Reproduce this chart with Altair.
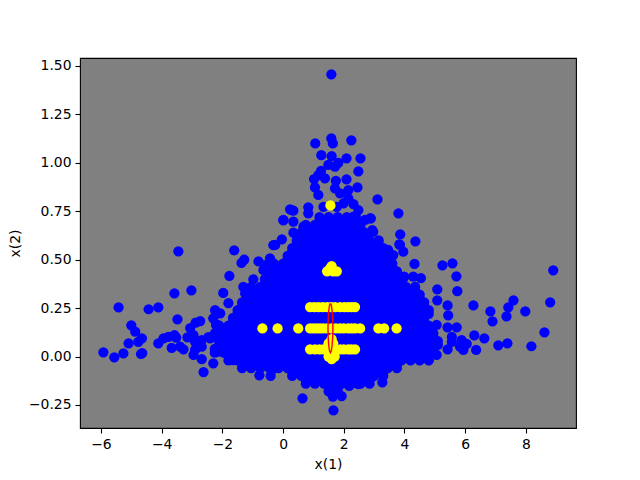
import altair as alt
import pandas as pd

# Outlying blue points
out_x = [-3.45,-1.61,-1.28,-1.37,-0.81,-1.77,-3.58,-3.02,-1.97,-1.80,-5.42,-4.43,-4.11,-3.48,-2.24,-2.07,-2.30,-2.21,-2.73,-2.88,-3.06,-5.0,-4.87,-4.65,-4.77,-5.09,-5.92,-5.56,-5.26,-4.68,-4.64,-4.11,-3.94,-3.78,-3.58,-3.52,-3.67,-3.39,-3.28,-3.15,-2.95,-2.90,-2.95,-2.90,-2.68,-2.68,-2.68,-2.62,-2.30,-2.40,-0.78,-0.41,-0.37,-2.13,-1.65,-1.20,-0.87,
 3.80,3.86,4.36,3.83,3.96,4.33,5.25,5.58,5.71,5.08,5.74,5.08,5.42,5.44,6.27,6.83,7.42,7.59,7.36,6.9,7.98,8.80,8.90,8.61,8.18,7.39,7.09,6.30,6.63,6.36,5.72,5.42,5.56,5.56,5.88,6.05,5.83,5.94,5.42,5.06,4.79,5.06,4.29,4.54,3.99,
 1.59,1.59,1.64,1.06,2.25,1.26,1.60,2.09,2.55,1.82,1.49,1.71,2.48,1.25,1.02,1.38,1.16,1.74,2.09,2.45,1.05,2.15,1.16,1.71,1.88,3.11,2.15,2.32,0.23,0.34,0.83,0.01,0.34,0.83,2.89,2.70,2.48,2.32,2.94,1.33,1.77,1.99,
 -0.65,-0.59,-0.98,-1.31,-1.25,-0.43,-0.26,-0.04,0.29,0.01,0.34,0.67,2.97,2.87,3.42,3.63,3.85,3.96,3.42,3.74,
 0.64,1.66,1.64,1.93,3.27,2.48,2.18,2.92,-2.16,-2.46,-0.32,3.46]
out_y = [0.543,0.548,0.50,0.483,0.491,0.416,0.326,0.342,0.328,0.275,0.254,0.244,0.254,0.192,0.239,0.223,0.197,0.163,0.183,0.175,0.147,0.161,0.128,0.094,0.076,0.068,0.022,-0.004,0.016,0.013,0.018,0.068,0.094,0.102,0.111,0.098,0.044,0.051,0.037,0.099,0.111,0.076,0.008,0.034,0.085,0.051,-0.014,-0.08,-0.035,0.094,-0.097,-0.10,-0.07,0.025,-0.018,-0.04,-0.044,
 0.739,0.631,0.595,0.579,0.541,0.478,0.471,0.481,0.414,0.347,0.337,0.29,0.264,0.213,0.264,0.233,0.254,0.29,0.207,0.182,0.233,0.28,0.445,0.125,0.053,0.068,0.058,0.109,0.094,0.034,0.151,0.151,0.102,0.076,0.085,0.065,0.051,0.034,0.037,0.008,-0.014,0.163,0.412,0.405,0.412,
 1.457,1.126,1.10,1.10,1.116,1.039,1.034,1.023,1.023,1.0,0.989,0.98,0.956,0.958,0.916,0.92,0.937,0.907,0.915,0.873,0.873,0.859,0.834,0.868,0.842,0.811,0.816,0.787,0.76,0.753,0.77,0.703,0.696,0.739,0.713,0.705,0.756,0.722,0.653,0.773,0.773,0.79,
 0.447,0.472,0.398,0.36,0.326,0.507,0.576,0.605,0.756,0.705,0.639,0.67,0.644,0.713,0.55,0.524,0.576,0.404,0.447,0.438,
 -0.216,-0.278,-0.207,-0.204,-0.133,-0.142,-0.151,-0.107,0.163,0.10,0.575,0.55]

# Dense blue mass, read row by row; each row is drawn at two close heights
mass_rows = [
 (0.72,[1.2,1.5,1.8,2.1,2.4]),
 (0.68,[0.75,1.05,1.35,1.65,1.95,2.25,2.55]),
 (0.64,[0.6,0.9,1.2,1.5,1.8,2.1,2.4,2.7]),
 (0.60,[0.45,0.75,1.05,1.35,1.65,1.95,2.25,2.55,2.85,3.15]),
 (0.56,[0.3,0.6,0.9,1.2,1.5,1.8,2.1,2.4,2.7,3.0,3.3]),
 (0.52,[0.15,0.45,0.75,1.05,1.35,1.65,1.95,2.25,2.55,2.85,3.15,3.45]),
 (0.48,[-0.3,0.0,0.3,0.6,0.9,1.2,1.5,1.8,2.1,2.4,2.7,3.0,3.3,3.6]),
 (0.44,[-0.45,-0.15,0.15,0.45,0.75,1.05,1.35,1.65,1.95,2.25,2.55,2.85,3.15,3.45,3.75]),
 (0.40,[-0.6,-0.3,0.0,0.3,0.6,0.9,1.2,1.5,1.8,2.1,2.4,2.7,3.0,3.3,3.6,3.9]),
 (0.36,[-1.05,-0.75,-0.45,-0.15,0.15,0.45,0.75,1.05,1.35,1.65,1.95,2.25,2.55,2.85,3.15,3.45,3.75,4.05,4.35]),
 (0.32,[-1.2,-0.9,-0.6,-0.3,0.0,0.3,0.6,0.9,1.2,1.5,1.8,2.1,2.4,2.7,3.0,3.3,3.6,3.9,4.2,4.5]),
 (0.28,[-1.35,-1.05,-0.75,-0.45,-0.15,0.15,0.45,0.75,1.05,1.35,1.65,1.95,2.25,2.55,2.85,3.15,3.45,3.75,4.05,4.35,4.65]),
 (0.24,[-1.5,-1.2,-0.9,-0.6,-0.3,0.0,0.3,0.6,0.9,1.2,1.5,1.8,2.1,2.4,2.7,3.0,3.3,3.6,3.9,4.2,4.5,4.8]),
 (0.20,[-1.65,-1.35,-1.05,-0.75,-0.45,-0.15,0.15,0.45,0.75,1.05,1.35,1.65,1.95,2.25,2.55,2.85,3.15,3.45,3.75,4.05,4.35,4.65]),
 (0.16,[-2.1,-1.8,-1.5,-1.2,-0.9,-0.6,-0.3,0.0,0.3,0.6,0.9,1.2,1.5,1.8,2.1,2.4,2.7,3.0,3.3,3.6,3.9,4.2,4.5,4.8]),
 (0.12,[-2.25,-1.95,-1.65,-1.35,-1.05,-0.75,-0.45,-0.15,0.15,0.45,0.75,1.05,1.35,1.65,1.95,2.25,2.55,2.85,3.15,3.45,3.75,4.05,4.35,4.65,4.95]),
 (0.08,[-2.1,-1.8,-1.5,-1.2,-0.9,-0.6,-0.3,0.0,0.3,0.6,0.9,1.2,1.5,1.8,2.1,2.4,2.7,3.0,3.3,3.6,3.9,4.2,4.5,4.8,5.1]),
 (0.04,[-2.25,-1.95,-1.65,-1.35,-1.05,-0.75,-0.45,-0.15,0.15,0.45,0.75,1.05,1.35,1.65,1.95,2.25,2.55,2.85,3.15,3.45,3.75,4.05,4.35,4.65,4.95]),
 (0.00,[-1.8,-1.5,-1.2,-0.9,-0.6,-0.3,0.0,0.3,0.6,0.9,1.2,1.5,1.8,2.1,2.4,2.7,3.0,3.3,3.6,3.9,4.2,4.5,4.8]),
 (-0.04,[-1.35,-1.05,-0.75,-0.45,-0.15,0.15,0.45,0.75,1.05,1.35,1.65,1.95,2.25,2.55,2.85,3.15,3.45,3.75]),
 (-0.08,[0.3,0.6,0.9,1.2,1.5,1.8,2.1,2.4,2.7,3.0,3.3]),
 (-0.12,[0.75,1.05,1.35,1.65,1.95,2.25,2.55,2.85]),
 (-0.16,[1.5,1.8]),
]

# Yellow points
yellow_x = [1.56,1.55,1.77,1.60,1.65,1.45,
 -0.68,-0.18,0.50,0.89,1.11,1.33,1.60,1.88,2.15,2.37,2.54,3.14,3.33,3.74,1.0,1.22,1.45,1.74,2.0,2.26,
 0.89,1.03,1.17,1.31,1.45,1.58,1.71,1.88,2.02,2.15,2.37,2.26,
 0.89,1.05,1.2,1.33,1.60,1.88,2.0,2.15,2.25,2.37,
 1.50,1.65,1.50,1.70,1.60,1.60]
yellow_y = [0.78,0.455,0.44,0.467,0.44,0.44,
 0.145,0.145,0.145,0.145,0.145,0.145,0.145,0.145,0.145,0.145,0.145,0.145,0.145,0.145,0.145,0.145,0.145,0.145,0.145,0.145,
 0.255,0.255,0.255,0.255,0.255,0.255,0.255,0.255,0.255,0.255,0.255,0.255,
 0.037,0.037,0.037,0.037,0.037,0.037,0.037,0.037,0.037,0.037,
 0.068,0.068,0.0,0.0,-0.013,0.09]

# Red ellipse outline
ell_x = [1.56,1.59,1.615,1.635,1.64,1.635,1.615,1.59,1.56,1.53,1.505,1.485,1.48,1.485,1.505,1.53,1.56]
ell_y = [0.274,0.265,0.236,0.195,0.147,0.099,0.058,0.029,0.020,0.029,0.058,0.099,0.147,0.195,0.236,0.265,0.274]

x_ticks = [-6,-4,-2,0,2,4,6,8]
y_ticks = [-0.25,0.0,0.25,0.5,0.75,1.0,1.25,1.5]
row_step = 0.02

mass_x = [v for _, row in mass_rows for v in row for _ in (0, 1)]
mass_y = [y - k * row_step for y, row in mass_rows for _ in row for k in (0, 1)]
blue = pd.DataFrame({"x": out_x + mass_x, "y": out_y + mass_y})
yellow = pd.DataFrame({"x": yellow_x, "y": yellow_y})
ell = pd.DataFrame({"x": ell_x, "y": ell_y, "i": list(range(len(ell_x)))})

FS = 13.9
xs = alt.X("x:Q", scale=alt.Scale(domain=[-6.69, 9.65], nice=False, zero=False),
           axis=alt.Axis(values=x_ticks, format="d", title="x(1)", grid=False, domain=False,
                         tickColor="black", tickSize=5, tickWidth=1.1,
                         labelFontSize=FS, titleFontSize=FS, labelFont="DejaVu Sans", titleFont="DejaVu Sans",
                         titleFontWeight="normal", labelColor="black", titleColor="black",
                         labelPadding=4, titlePadding=7))
ys = alt.Y("y:Q", scale=alt.Scale(domain=[-0.369, 1.541], nice=False, zero=False),
           axis=alt.Axis(values=y_ticks, format=".2f", title="x(2)", grid=False, domain=False,
                         tickColor="black", tickSize=5, tickWidth=1.1,
                         labelFontSize=FS, titleFontSize=FS, labelFont="DejaVu Sans", titleFont="DejaVu Sans",
                         titleFontWeight="normal", labelColor="black", titleColor="black",
                         labelPadding=4, titlePadding=6))

b = alt.Chart(blue).mark_circle(color="#0000ff", opacity=1, size=105).encode(x=xs, y=ys)
yl = alt.Chart(yellow).mark_circle(color="#ffff00", opacity=1, size=105).encode(x=xs, y=ys)
r = alt.Chart(ell).mark_line(color="#ff0000", strokeWidth=1.4).encode(x=xs, y=ys, order="i:Q")

chart = (b + yl + r).properties(
    width=496, height=370,
    padding={"left": 72, "top": 50, "right": 56, "bottom": 44},
    autosize=alt.AutoSizeParams(type="none"),
    background="white",
).configure_view(fill="#808080", stroke="black", strokeWidth=1.1)

chart.save("out.html", embed_options={"renderer": "svg", "actions": False})
